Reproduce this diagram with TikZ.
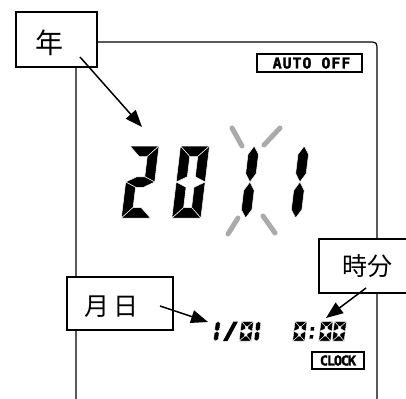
\documentclass[tikz,border=0pt]{standalone}
\usepackage{fontspec}
\newfontfamily\cjk{Noto Sans CJK JP}
\newfontfamily\lcdfont[LetterSpace=6,FakeBold=1.5]{DejaVu Sans Mono Bold}
\newfontfamily\lcdfontb[LetterSpace=-9,FakeBold=1.5]{DejaVu Sans Mono Bold}
\usetikzlibrary{arrows.meta}
\definecolor{flashgray}{RGB}{170,170,170}
\tikzset{
  box/.style={draw, line width=1.3pt, fill=white, inner sep=0pt},
  tagtext/.style={inner sep=0pt},
  arr/.style={line width=1.5pt, -{Triangle[length=17pt,width=13pt]}},
  flash/.style={line width=5pt, line cap=round, draw=flashgray},
  bigseg/.style={fill=black, draw=white, line width=0.5pt, line join=miter},
  smallseg/.style={fill=black, draw=white, line width=0.4pt, line join=miter},
  indbox/.style={draw, line width=1.1pt, inner sep=0pt},
  curseg/.style={bigseg},
}
\def\sgW{29}\def\sgH{72}\def\sgT{10.5}\def\sgK{0.8}
\def\sA{\path[curseg] (0,0) -- (\sgW,0) -- ({\sgW-\sgT},\sgT) -- (\sgT,\sgT) -- cycle;}
\def\sB{\path[curseg] (\sgW,0) -- (\sgW,{\sgH/2}) -- ({\sgW-\sgT},{\sgH/2-\sgT/2}) -- ({\sgW-\sgT},\sgT) -- cycle;}
\def\sC{\path[curseg] (\sgW,{\sgH/2}) -- (\sgW,\sgH) -- ({\sgW-\sgT},{\sgH-\sgT}) -- ({\sgW-\sgT},{\sgH/2+\sgT/2}) -- cycle;}
\def\sD{\path[curseg] (0,\sgH) -- (\sgW,\sgH) -- ({\sgW-\sgT},{\sgH-\sgT}) -- (\sgT,{\sgH-\sgT}) -- cycle;}
\def\sE{\path[curseg] (0,{\sgH/2}) -- (\sgT,{\sgH/2+\sgT/2}) -- (\sgT,{\sgH-\sgT}) -- (0,\sgH) -- cycle;}
\def\sF{\path[curseg] (0,0) -- (\sgT,\sgT) -- (\sgT,{\sgH/2-\sgT/2}) -- (0,{\sgH/2}) -- cycle;}
\def\sG{\path[curseg] (0,{\sgH/2}) -- (\sgT,{\sgH/2-\sgT/2}) -- ({\sgW-\sgT},{\sgH/2-\sgT/2}) -- (\sgW,{\sgH/2}) -- ({\sgW-\sgT},{\sgH/2+\sgT/2}) -- (\sgT,{\sgH/2+\sgT/2}) -- cycle;}
\def\sBh{\path[curseg] ({\sgW-\sgT/2},0) -- (\sgW,{\sgT*\sgK}) -- (\sgW,{\sgH/2-\sgT*\sgK}) -- ({\sgW-\sgT/2},{\sgH/2}) -- ({\sgW-\sgT},{\sgH/2-\sgT*\sgK}) -- ({\sgW-\sgT},{\sgT*\sgK}) -- cycle;}
\def\sCh{\path[curseg] ({\sgW-\sgT/2},{\sgH/2}) -- (\sgW,{\sgH/2+\sgT*\sgK}) -- (\sgW,{\sgH-\sgT*\sgK}) -- ({\sgW-\sgT/2},\sgH) -- ({\sgW-\sgT},{\sgH-\sgT*\sgK}) -- ({\sgW-\sgT},{\sgH/2+\sgT*\sgK}) -- cycle;}
\newcommand\lcddigit[3]{\begin{scope}[shift={(#1,#2)},xslant=0.12] #3 \end{scope}}
\begin{document}
\begin{tikzpicture}[x=1pt,y=-1pt]
\useasboundingbox (0,0) rectangle (406,398);
\clip (0,0) rectangle (406,398);
% panel
\draw[line width=1.2pt] (76,405) -- (76,42) -- (368,42) .. controls (377,42) .. (377,51) -- (377,405);
% indicator boxes
\node[indbox, minimum width=105pt, minimum height=18pt] (autooff) at (309.5,63) {};
\node[inner sep=0pt] (autotext) at (311.5,63) {\lcdfont\fontsize{15}{15}\selectfont AUTO OFF};
\node[indbox, minimum width=52pt, minimum height=17pt] (clock) at (338,360.5) {};
\node[inner sep=0pt] (clocktext) at (338,360.5) {\lcdfontb\fontsize{13.7}{13.7}\selectfont CLOCK};
% big digits
\lcddigit{130}{146}{\sA\sB\sG\sE\sD}
\lcddigit{180.5}{146}{\sA\sB\sC\sD\sE\sF}
\lcddigit{230.5}{146}{\sBh\sCh}
\lcddigit{280.5}{146}{\sBh\sCh}
% flashing marks
\draw[flash] (232,128) -- (242,146);
\draw[flash] (280,128) -- (264,145);
\draw[flash] (238,218) -- (228,234);
\draw[flash] (263,216) -- (275,233);
% small digits
\def\sgW{12}\def\sgH{19.5}\def\sgT{4.8}\def\sgK{0.35}
\tikzset{curseg/.style={smallseg}}
\lcddigit{208.5}{321.5}{\sBh\sCh}
\fill (223,341) -- (227.5,341) -- (238,321.5) -- (233.5,321.5) -- cycle;
\lcddigit{241.5}{321.5}{\sA\sB\sC\sD\sE\sF}
\lcddigit{249}{321.5}{\sBh\sCh}
\lcddigit{295}{321.5}{\sA\sB\sC\sD\sE\sF}
\begin{scope}[shift={(310,321.5)},xslant=0.12]
  \fill (1.5,5.5) rectangle (5,9);
  \fill (1.5,13.5) rectangle (5,17);
\end{scope}
\lcddigit{321}{321.5}{\sA\sB\sC\sD\sE\sF}
\lcddigit{334.5}{321.5}{\sA\sB\sC\sD\sE\sF}
% label boxes
\node[box, minimum width=81pt, minimum height=55pt] (nenbox) at (56.5,39.5) {};
\node[tagtext] (nen) at (49.5,42.5) {\cjk\fontsize{28}{28}\selectfont 年};
\coordinate (nenstart) at (80,57);
\coordinate (nentip) at (142,127);
\draw[arr] (nenstart) -- (nentip);
\node[box, minimum width=106pt, minimum height=53pt] (mdbox) at (120,303.5) {};
\node[tagtext] (md) at (111,306.5) {\cjk\fontsize{25}{25}\selectfont 月\kern4pt 日};
\coordinate (mdstart) at (160,306);
\coordinate (mdtip) at (208,322);
\draw[arr] (mdstart) -- (mdtip);
\node[box, minimum width=101pt, minimum height=54pt] (hmbox) at (369.5,266) {};
\node[tagtext] (hm) at (367,266.5) {\cjk\fontsize{25}{25}\selectfont 時分};
\coordinate (hmstart) at (366,288);
\coordinate (hmtip) at (326,318);
\draw[arr] (hmstart) -- (hmtip);
\end{tikzpicture}
\end{document}
